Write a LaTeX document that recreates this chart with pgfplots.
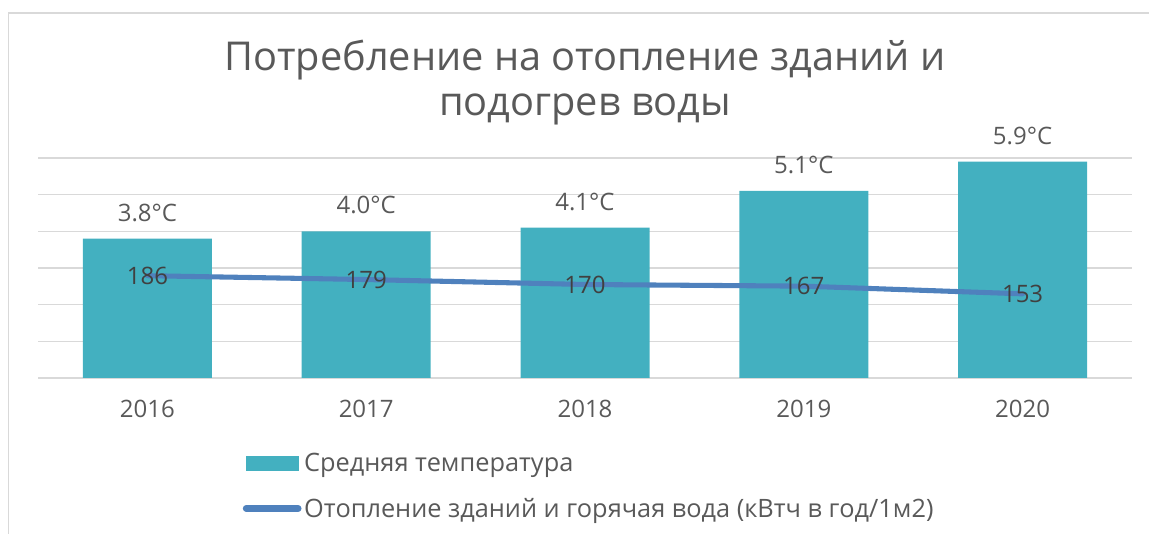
\documentclass[border=0pt]{standalone}
\usepackage{fontspec}
\setmainfont{Open Sans}
\usepackage{pgfplots}
\pgfplotsset{compat=1.18}
\definecolor{barc}{HTML}{43B0C0}
\definecolor{linec}{HTML}{4F81BD}
\definecolor{txt}{HTML}{595959}
\definecolor{dlab}{HTML}{404040}
\definecolor{gridc}{HTML}{D9D9D9}
\begin{document}
\begin{tikzpicture}
\begin{scope}[x=0.75pt, y=-0.75pt, shift={(-28.5pt,283.5pt)}]
\useasboundingbox (0,0) rectangle (1149,534);
\draw[gridc, line width=1.3pt] (8.5,540) -- (8.5,13) -- (1155,13);
\node[txt, anchor=base, font=\fontsize{29.8}{34}\selectfont] at (585,71) {Потребление на отопление зданий и};
\node[txt, anchor=base, font=\fontsize{29.8}{34}\selectfont] at (585,116) {подогрев воды};
\end{scope}
\begin{axis}[
  at={(0pt,0pt)}, anchor=south west, scale only axis,
  width=820.5pt, height=165pt,
  xmin=-0.5, xmax=4.5, ymin=0, ymax=6,
  ybar, bar width=96.75pt,
  xtick={0,1,2,3,4}, xticklabels={2016,2017,2018,2019,2020},
  ytick={0,1,2,3,4,5,6}, yticklabels={},
  ymajorgrids, grid style={gridc, line width=0.9pt},
  axis line style={draw=none}, major tick length=0pt,
  xticklabel style={txt, font=\fontsize{18}{18}\selectfont, inner sep=0pt, yshift=-16.5pt},
  point meta=explicit symbolic,
  nodes near coords={\pgfplotspointmeta°C},
  every node near coord/.append style={txt, font=\fontsize{18}{18}\selectfont, anchor=south, inner sep=0pt, yshift=12.75pt},
]
\addplot[fill=barc, draw=none] coordinates {(0,3.8) [3.8] (1,4.0) [4.0] (2,4.1) [4.1] (3,5.1) [5.1] (4,5.9) [5.9]};
\end{axis}
\begin{axis}[
  at={(0pt,0pt)}, anchor=south west, scale only axis,
  width=820.5pt, height=165pt,
  xmin=-0.5, xmax=4.5, ymin=0, ymax=400,
  hide axis,
  legend style={at={(0.187,-0.33)}, anchor=north west, draw=none, fill=none,
    font=\fontsize{19}{19}\selectfont, text=txt, row sep=14pt, inner sep=0pt,
    nodes={inner sep=2pt}},
  legend cell align=left,
]
\addlegendimage{legend image code/.code={\fill[barc] (0pt,-5.25pt) rectangle (39pt,5.25pt);}}
\addlegendentry{Средняя температура}
\addplot[linec, line width=3.8pt, line join=round, line cap=round,
  nodes near coords, point meta=explicit symbolic,
  every node near coord/.append style={dlab, font=\fontsize{18}{18}\selectfont, anchor=center, inner sep=0pt},
  legend image code/.code={\draw[linec, line width=5pt, line cap=round] (0pt,0pt) -- (39pt,0pt);}]
  coordinates {(0,186) [186] (1,179) [179] (2,170) [170] (3,167) [167] (4,153) [153]};
\addlegendentry{Отопление зданий и горячая вода (кВтч в год/1м2)}
\end{axis}
\end{tikzpicture}
\end{document}
